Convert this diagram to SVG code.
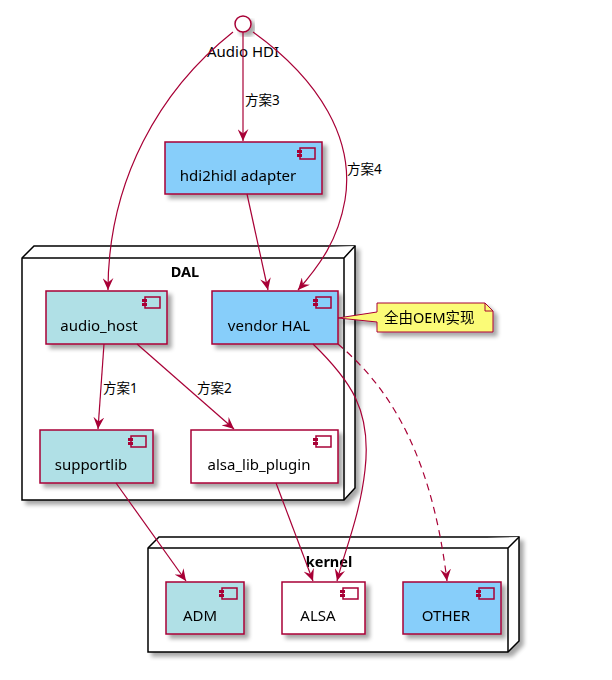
<svg xmlns="http://www.w3.org/2000/svg" width="612" height="680" viewBox="0 0 612 680">
<defs>
<filter id="sh" x="-10%" y="-10%" width="130%" height="140%">
<feGaussianBlur in="SourceAlpha" stdDeviation="2"/>
<feOffset dx="4" dy="4" result="o"/>
<feComponentTransfer><feFuncA type="linear" slope="0.35"/></feComponentTransfer>
<feMerge><feMergeNode/><feMergeNode in="SourceGraphic"/></feMerge>
</filter>
<marker id="ah" viewBox="0 0 12 10" refX="11" refY="5" markerWidth="13" markerHeight="11" markerUnits="userSpaceOnUse" orient="auto">
<path d="M0,0 L11,5 L0,10 L4,5 Z" fill="#A80036"/>
</marker>
<g id="icon">
<rect x="0" y="0" width="15" height="11" fill="none" stroke="#A80036" stroke-width="1.5"/>
<rect x="-3" y="2" width="5" height="3" fill="#A80036"/>
<rect x="-3" y="6" width="5" height="3" fill="#A80036"/>
</g>
</defs>
<style>
.t{font-family:"Noto Sans","Noto Sans CJK SC",sans-serif;font-size:15px;fill:#000}
.e{font-family:"Noto Sans","Noto Sans CJK SC",sans-serif;font-size:13.5px;fill:#000}
.n{font-family:"Noto Sans","Noto Sans CJK SC",sans-serif;font-size:14.5px;fill:#000}
.b{font-family:"Noto Sans","Noto Sans CJK SC",sans-serif;font-size:14.5px;font-weight:bold;fill:#000}
.box{stroke:#A80036;stroke-width:1.5}
.node{fill:#fff;stroke:#000;stroke-width:1.5}
.c{fill:none;stroke:#A80036;stroke-width:1.2}
</style>
<rect width="612" height="680" fill="#fff"/>

<g id="DAL" filter="url(#sh)">
<path class="node" d="M22,258 L34,246 L355,246 L355,488 L344,500 L22,500 Z"/>
<path class="node" d="M22,258 L344,258 L355,246 M344,258 L344,500" fill="none"/>
<text class="b" x="185" y="277" text-anchor="middle">DAL</text>
</g>

<g id="kernel" filter="url(#sh)">
<path class="node" d="M148,548 L159,537 L519,537 L519,641 L508,652 L148,652 Z"/>
<path class="node" d="M148,548 L508,548 L519,537 M508,548 L508,652" fill="none"/>
<text class="b" x="329" y="567" text-anchor="middle">kernel</text>
</g>

<g id="audio_hdi">
<circle cx="243" cy="24" r="8" fill="#fff" stroke="#A80036" stroke-width="1.5" filter="url(#sh)"/>
<text class="t" x="243" y="57" text-anchor="middle">Audio HDI</text>
</g>

<g id="hdi2hidl" filter="url(#sh)">
<rect class="box" x="165" y="142" width="157" height="52" fill="#87CEFA"/>
<use href="#icon" x="300" y="148"/>
<text class="t" x="238" y="181" text-anchor="middle">hdi2hidl adapter</text>
</g>

<g id="audio_host" filter="url(#sh)">
<rect class="box" x="46" y="291" width="121" height="53" fill="#B0E0E6"/>
<use href="#icon" x="145" y="297"/>
<text class="t" x="99" y="331" text-anchor="middle">audio_host</text>
</g>

<g id="vendor_hal" filter="url(#sh)">
<rect class="box" x="212" y="291" width="126" height="53" fill="#87CEFA"/>
<use href="#icon" x="316" y="297"/>
<text class="t" x="269" y="331" text-anchor="middle">vendor HAL</text>
</g>

<g id="note" filter="url(#sh)">
<path d="M377,303 L485,303 L493,311 L493,332 L377,332 L377,322 L338,318 L377,312 Z" fill="#FBFB77" stroke="#A80036" stroke-width="1"/>
<path d="M485,303 L485,311 L493,311" fill="none" stroke="#A80036" stroke-width="1"/>
<text class="n" x="384" y="323">全由OEM实现</text>
</g>

<g id="supportlib" filter="url(#sh)">
<rect class="box" x="40" y="430" width="113" height="53" fill="#B0E0E6"/>
<use href="#icon" x="131" y="436"/>
<text class="t" x="91" y="470" text-anchor="middle">supportlib</text>
</g>

<g id="alsa_lib_plugin" filter="url(#sh)">
<rect class="box" x="191" y="430" width="147" height="53" fill="#fff"/>
<use href="#icon" x="316" y="436"/>
<text class="t" x="259" y="470" text-anchor="middle">alsa_lib_plugin</text>
</g>

<g id="ADM" filter="url(#sh)">
<rect class="box" x="166" y="582" width="78" height="52" fill="#B0E0E6"/>
<use href="#icon" x="222" y="588"/>
<text class="t" x="200" y="621" text-anchor="middle">ADM</text>
</g>

<g id="ALSA" filter="url(#sh)">
<rect class="box" x="282" y="582" width="83" height="52" fill="#fff"/>
<use href="#icon" x="343" y="588"/>
<text class="t" x="318" y="621" text-anchor="middle">ALSA</text>
</g>

<g id="OTHER" filter="url(#sh)">
<rect class="box" x="403" y="582" width="98" height="52" fill="#87CEFA"/>
<use href="#icon" x="479" y="588"/>
<text class="t" x="446" y="621" text-anchor="middle">OTHER</text>
</g>

<g id="connectors">
<path class="c" d="M233,32 C160,90 108,180 108,290" marker-end="url(#ah)"/>
<path class="c" d="M243,32 L243,141" marker-end="url(#ah)"/>
<text class="e" x="245" y="105">方案3</text>
<path class="c" d="M253,32 C320,80 355,140 345,200 C338,240 320,265 298,290" marker-end="url(#ah)"/>
<text class="e" x="347" y="174">方案4</text>
<path class="c" d="M247,194 L268,290" marker-end="url(#ah)"/>
<path class="c" d="M104,344 L98,429" marker-end="url(#ah)"/>
<text class="e" x="103" y="393">方案1</text>
<path class="c" d="M137,344 L234,429" marker-end="url(#ah)"/>
<text class="e" x="197" y="393">方案2</text>
<path class="c" d="M313,344 C350,380 372,410 365,470 C360,515 345,550 337,581" marker-end="url(#ah)"/>
<path class="c" stroke-dasharray="7,5" d="M338,344 C380,380 430,440 447,581" marker-end="url(#ah)"/>
<path class="c" d="M116,483 L186,581" marker-end="url(#ah)"/>
<path class="c" d="M276,483 L313,581" marker-end="url(#ah)"/>
</g>
</svg>
